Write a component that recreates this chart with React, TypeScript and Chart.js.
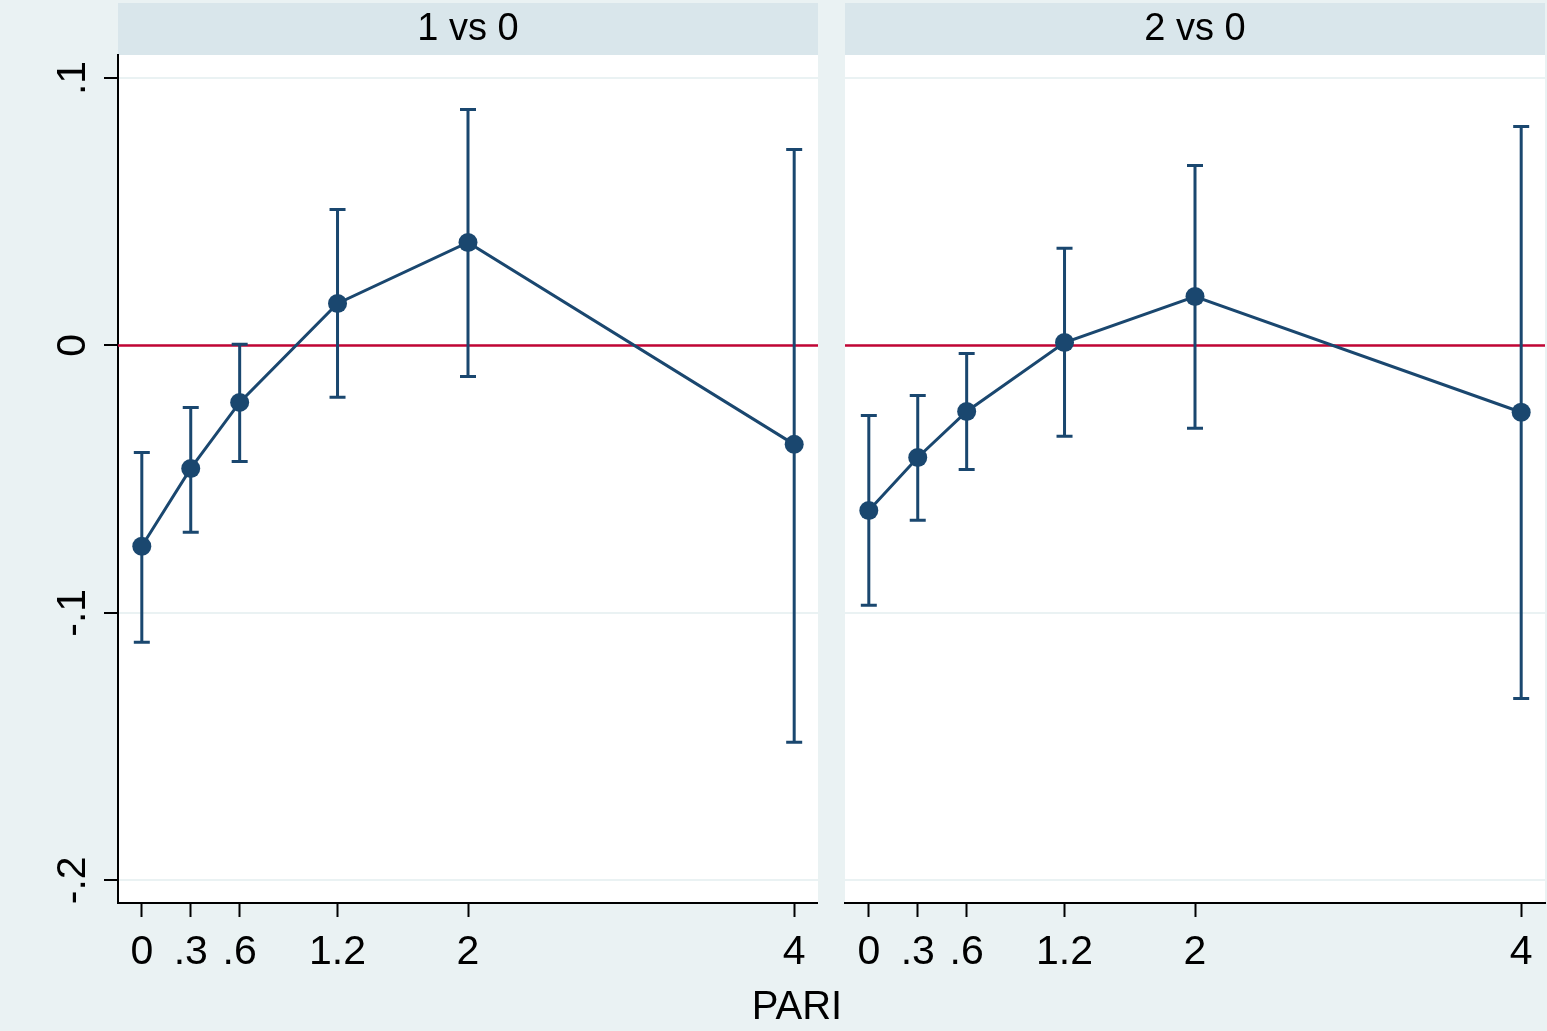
import React, { useEffect, useRef } from 'react';
import { Chart, registerables } from 'chart.js';

Chart.register(...registerables);

// ---- data ----
const xValues = [0, 0.3, 0.6, 1.2, 2, 4];
const xTickLabels = ['0', '.3', '.6', '1.2', '2', '4'];
const yTickValues = [-0.2, -0.1, 0, 0.1];
const yTickLabels = ['-.2', '-.1', '0', '.1'];
const panelTitles = ['1 vs 0', '2 vs 0'];
const xAxisTitle = 'PARI';
const refValue = 0;

const est1 = [-0.0751, -0.046, -0.0213, 0.0157, 0.0385, -0.037];
const lo1 = [-0.111, -0.0699, -0.0434, -0.0194, -0.0116, -0.1484];
const hi1 = [-0.04, -0.0232, 0.0004, 0.0508, 0.0882, 0.0733];

const est2 = [-0.0617, -0.0419, -0.0247, 0.0011, 0.0183, -0.025];
const lo2 = [-0.0972, -0.0654, -0.0464, -0.034, -0.031, -0.132];
const hi2 = [-0.0262, -0.0187, -0.003, 0.0363, 0.0673, 0.0819];

const FONT = '"Liberation Sans", Arial, Helvetica, sans-serif';
const NAVY = '#1a476f';
const BG = '#eaf2f3';

const panelPlugin = {
  id: 'panelDecor',
  beforeDraw(chart: any, _args: any, opts: any) {
    const { ctx, chartArea: a } = chart;
    ctx.save();
    ctx.fillStyle = '#d9e6eb';
    ctx.fillRect(a.left, 3, a.right - a.left, a.top - 3);
    ctx.fillStyle = '#ffffff';
    ctx.fillRect(a.left, a.top, a.right - a.left, a.bottom - a.top);
    ctx.fillStyle = '#000000';
    ctx.font = `38px ${FONT}`;
    ctx.textAlign = 'center';
    ctx.textBaseline = 'middle';
    ctx.fillText(opts.title, (a.left + a.right) / 2, 29.5);
    ctx.restore();
  },
  beforeDatasetsDraw(chart: any, _args: any, opts: any) {
    const { ctx, chartArea: a } = chart;
    const xs = chart.scales.x;
    const ys = chart.scales.y;
    ctx.save();
    const y0 = ys.getPixelForValue(opts.refValue);
    ctx.strokeStyle = '#c10534';
    ctx.lineWidth = 2.5;
    ctx.beginPath();
    ctx.moveTo(a.left, y0);
    ctx.lineTo(a.right, y0);
    ctx.stroke();

    const ds = chart.data.datasets[0];
    ctx.strokeStyle = NAVY;
    ctx.lineWidth = 3;
    ds.data.forEach((pt: any, i: number) => {
      const px = xs.getPixelForValue(pt.x);
      const pl = ys.getPixelForValue(ds.lo[i]);
      const ph = ys.getPixelForValue(ds.hi[i]);
      ctx.beginPath();
      ctx.moveTo(px, pl);
      ctx.lineTo(px, ph);
      ctx.moveTo(px - 8, pl);
      ctx.lineTo(px + 8, pl);
      ctx.moveTo(px - 8, ph);
      ctx.lineTo(px + 8, ph);
      ctx.stroke();
    });
    ctx.restore();
  },
};

function makeConfig(title: string, est: number[], lo: number[], hi: number[], first: boolean): any {
  return {
    type: 'line',
    data: {
      datasets: [
        {
          data: xValues.map((x, i) => ({ x, y: est[i] })),
          lo,
          hi,
          borderColor: NAVY,
          borderWidth: 3,
          pointRadius: 9.5,
          pointHoverRadius: 9.5,
          pointBackgroundColor: NAVY,
          pointBorderWidth: 0,
          tension: 0,
          fill: false,
        },
      ],
    },
    options: {
      responsive: false,
      animation: false,
      events: [],
      layout: { autoPadding: false, padding: { top: 55, left: 0, right: first ? 0 : 2, bottom: 0 } },
      plugins: {
        legend: { display: false },
        tooltip: { enabled: false },
        title: { display: false },
        panelDecor: { title, refValue },
      },
      scales: {
        x: {
          type: 'linear',
          min: -0.146,
          max: 4.146,
          afterBuildTicks: (s: any) => {
            s.ticks = xValues.map((v) => ({ value: v }));
          },
          afterFit: (s: any) => {
            s.height = 128;
          },
          grid: {
            drawOnChartArea: false,
            drawTicks: true,
            tickLength: 14,
            tickColor: '#000000',
            tickWidth: 2,
          },
          border: { display: true, color: '#000000', width: 2 },
          ticks: {
            color: '#000000',
            font: { family: FONT, size: 41 },
            padding: 11,
            maxRotation: 0,
            minRotation: 0,
            autoSkip: false,
            callback: (v: number) => xTickLabels[xValues.indexOf(v)],
          },
        },
        y: {
          type: 'linear',
          min: -0.2085,
          max: 0.1086,
          afterBuildTicks: (s: any) => {
            s.ticks = yTickValues.map((v) => ({ value: v }));
          },
          afterFit: (s: any) => {
            s.width = first ? 118 : 27;
          },
          grid: {
            color: BG,
            lineWidth: 2,
            drawTicks: first,
            tickLength: 14,
            tickColor: '#000000',
            tickWidth: 2,
          },
          border: { display: first, color: '#000000', width: 2 },
          ticks: {
            display: first,
            color: '#000000',
            font: { family: FONT, size: 41 },
            padding: 6,
            minRotation: 90,
            maxRotation: 90,
            crossAlign: 'center',
            autoSkip: false,
            callback: (v: number) => yTickLabels[yTickValues.indexOf(v)],
          },
        },
      },
    },
    plugins: [panelPlugin],
  };
}

export default function App() {
  const refA = useRef<HTMLCanvasElement>(null);
  const refB = useRef<HTMLCanvasElement>(null);

  useEffect(() => {
    const a = new Chart(refA.current as HTMLCanvasElement, makeConfig(panelTitles[0], est1, lo1, hi1, true));
    const b = new Chart(refB.current as HTMLCanvasElement, makeConfig(panelTitles[1], est2, lo2, hi2, false));
    return () => {
      a.destroy();
      b.destroy();
    };
  }, []);

  return (
    <div
      style={{
        position: 'fixed',
        left: 0,
        top: 0,
        width: 1547,
        height: 1031,
        background: BG,
        overflow: 'hidden',
      }}
    >
      <canvas
        ref={refA}
        width={818}
        height={1031}
        style={{ position: 'absolute', left: 0, top: 0, width: 818, height: 1031 }}
      />
      <canvas
        ref={refB}
        width={729}
        height={1031}
        style={{ position: 'absolute', left: 818, top: 0, width: 729, height: 1031 }}
      />
      <div
        style={{
          position: 'absolute',
          left: 597,
          width: 400,
          top: 985,
          textAlign: 'center',
          fontFamily: FONT,
          fontSize: 40,
          lineHeight: '40px',
          color: '#000000',
        }}
      >
        {xAxisTitle}
      </div>
    </div>
  );
}
